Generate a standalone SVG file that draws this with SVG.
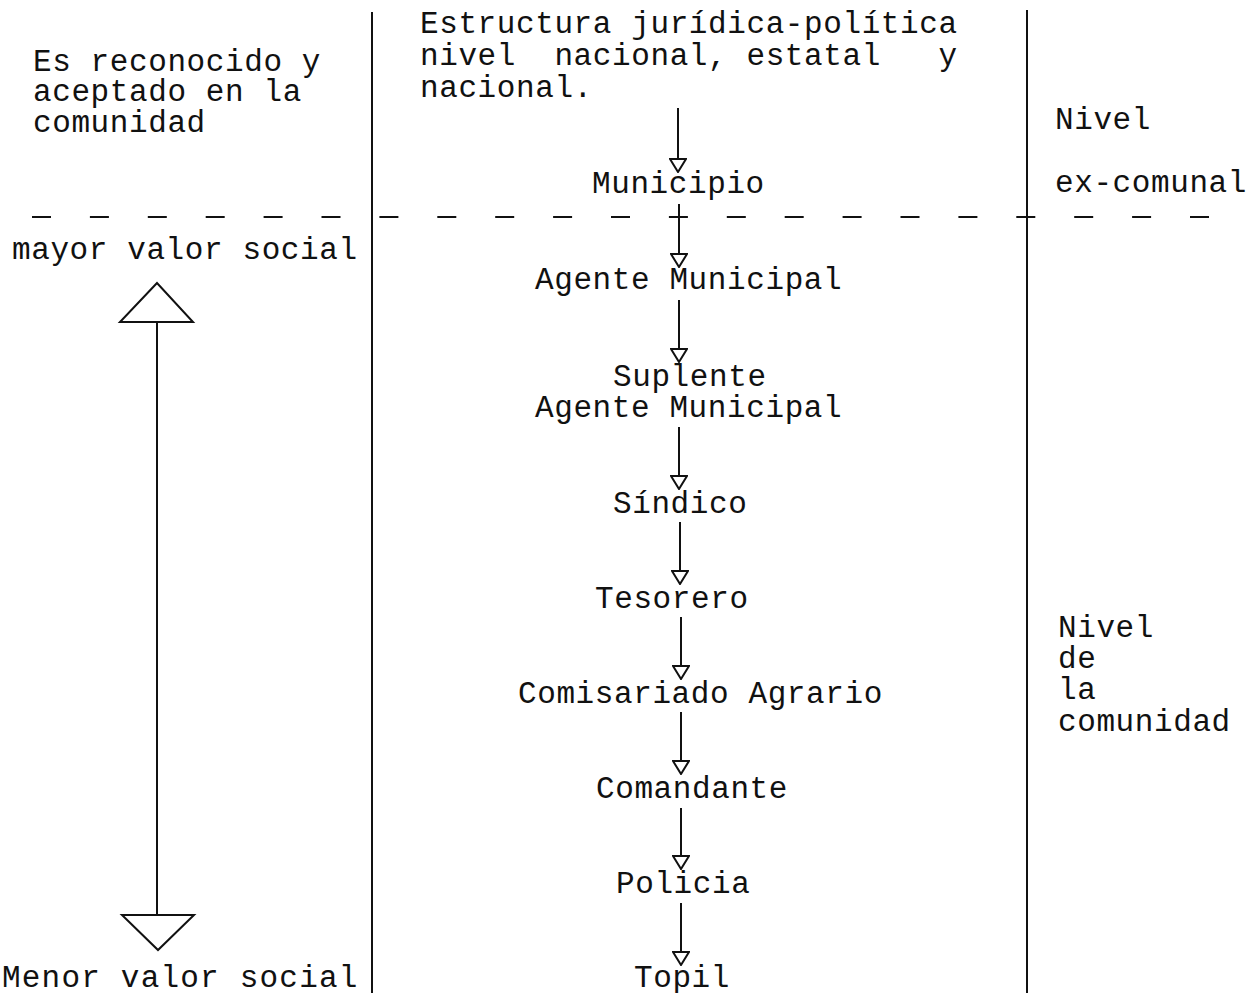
<svg xmlns="http://www.w3.org/2000/svg" width="1247" height="993" viewBox="0 0 1247 993">
<style>
text{font-family:"Liberation Mono","Courier New",monospace;font-size:31px;letter-spacing:0.6px;fill:#111;white-space:pre}
.ln{stroke:#111;stroke-width:2;fill:none}
.ah{stroke:#111;stroke-width:2;fill:#fff}
</style>
<defs>
<marker id="tri" viewBox="0 0 15 18" refX="14" refY="9" markerWidth="15" markerHeight="18" markerUnits="userSpaceOnUse" orient="auto">
<path d="M1,1 L14,9 L1,17 Z" fill="#fff" stroke="#111" stroke-width="2"/>
</marker>
</defs>
<g id="frame">
<line class="ln" x1="372" y1="12" x2="372" y2="993"/>
<line class="ln" x1="1027" y1="10" x2="1027" y2="993"/>
<line class="ln" x1="32" y1="217" x2="1212" y2="217" stroke-dasharray="19 38.9"/>
</g>
<g id="left-header"><text x="33" y="71">Es reconocido y</text><text x="33" y="101">aceptado en la</text><text x="33" y="132">comunidad</text></g>
<g id="mid-header"><text x="420" y="33">Estructura jurídica-política</text><text x="420" y="65">nivel  nacional, estatal   y</text><text x="420" y="97">nacional.</text></g>
<g id="right-excomunal"><text x="1055" y="129">Nivel</text><text x="1055" y="192">ex-comunal</text></g>
<g id="right-comunidad"><text x="1058" y="637">Nivel</text><text x="1058" y="668">de</text><text x="1058" y="699">la</text><text x="1058" y="731">comunidad</text></g>
<g id="scale">
<text x="12" y="259">mayor valor social</text>
<text x="2" y="987" textLength="356" lengthAdjust="spacing">Menor valor social</text>
<line class="ln" x1="157" y1="285" x2="157" y2="948"/>
<path class="ah" d="M157,283 L120,322 L193,322 Z"/>
<path class="ah" d="M122,915 L194,915 L158,950 Z"/>
</g>
<g id="n-municipio"><text x="592" y="193">Municipio</text></g>
<g id="n-agente"><text x="535" y="289">Agente Municipal</text></g>
<g id="n-suplente"><text x="613" y="386">Suplente</text><text x="535" y="417">Agente Municipal</text></g>
<g id="n-sindico"><text x="613" y="513">Síndico</text></g>
<g id="n-tesorero"><text x="595" y="608">Tesorero</text></g>
<g id="n-comisariado"><text x="518" y="703">Comisariado Agrario</text></g>
<g id="n-comandante"><text x="596" y="798">Comandante</text></g>
<g id="n-policia"><text x="616" y="893">Policia</text></g>
<g id="n-topil"><text x="634" y="987">Topil</text></g>
<g id="connectors">
<line class="ln" x1="678" y1="108" x2="678" y2="172" marker-end="url(#tri)"/>
<line class="ln" x1="679" y1="204" x2="679" y2="267" marker-end="url(#tri)"/>
<line class="ln" x1="679" y1="300" x2="679" y2="362" marker-end="url(#tri)"/>
<line class="ln" x1="679" y1="427" x2="679" y2="489" marker-end="url(#tri)"/>
<line class="ln" x1="680" y1="522" x2="680" y2="584" marker-end="url(#tri)"/>
<line class="ln" x1="681" y1="617" x2="681" y2="679" marker-end="url(#tri)"/>
<line class="ln" x1="681" y1="712" x2="681" y2="774" marker-end="url(#tri)"/>
<line class="ln" x1="681" y1="808" x2="681" y2="869" marker-end="url(#tri)"/>
<line class="ln" x1="681" y1="903" x2="681" y2="965" marker-end="url(#tri)"/>
</g>
</svg>
